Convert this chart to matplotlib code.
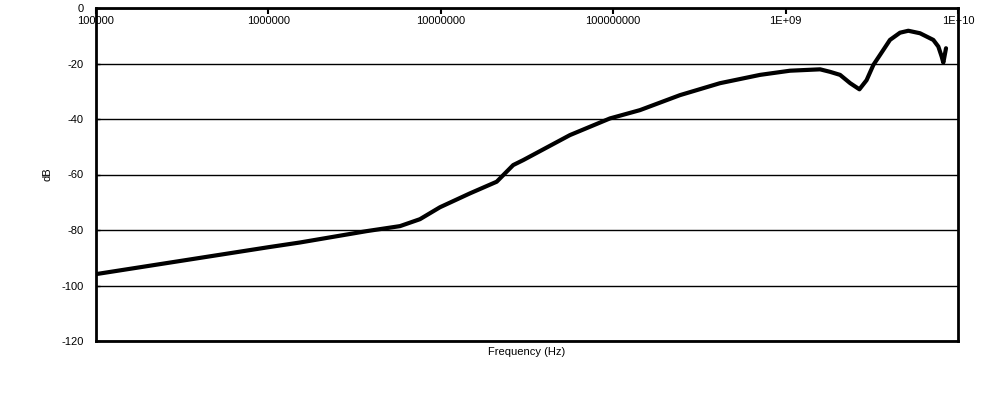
import matplotlib
matplotlib.use("Agg")
import matplotlib.pyplot as plt
from matplotlib.ticker import FixedLocator, FixedFormatter, NullLocator

plt.rcParams['font.family'] = ['Liberation Sans', 'DejaVu Sans']
plt.rcParams['axes.unicode_minus'] = False

freq_hz = [1.0e5, 1.0e6, 1.525e6, 3.72e6, 5.8e6, 7.57e6, 9.89e6, 1.476e7, 2.11e7,
           2.63e7, 3.01e7, 5.61e7, 9.57e7, 1.43e8, 2.44e8, 4.16e8, 7.11e8, 1.06e9,
           1.585e9, 1.81e9, 2.07e9, 2.37e9, 2.68e9, 2.95e9, 3.23e9, 3.53e9, 4.03e9,
           4.61e9, 5.15e9, 6.02e9, 7.19e9, 7.69e9, 8.04e9, 8.22e9, 8.52e9]
gain_db = [-95.9, -86.2, -84.5, -80.4, -78.6, -76.1, -71.8, -66.8, -62.6,
           -56.6, -54.8, -45.8, -39.8, -36.8, -31.4, -27.1, -24.1, -22.6,
           -22.1, -23.0, -24.1, -27.1, -29.3, -26.0, -20.5, -16.9, -11.5,
           -8.9, -8.2, -9.1, -11.5, -13.9, -17.5, -19.7, -14.5]

x_ticks = [1e5, 1e6, 1e7, 1e8, 1e9, 1e10]
x_tick_labels = ["100000", "1000000", "10000000", "100000000", "1E+09", "1E+10"]
y_ticks = [0, -20, -40, -60, -80, -100, -120]

fig = plt.figure(figsize=(9.97, 4.03), dpi=100)
ax = fig.add_axes([96/997, 1 - 341/403, (958-96)/997, (341-8)/403])

ax.plot(freq_hz, gain_db, color='black', lw=3.0, solid_joinstyle='round', solid_capstyle='round')

ax.set_xscale('log')
ax.set_xlim(1e5, 1e10)
ax.set_ylim(-120, 0)

ax.xaxis.tick_top()
ax.xaxis.set_major_locator(FixedLocator(x_ticks))
ax.xaxis.set_major_formatter(FixedFormatter(x_tick_labels))
ax.xaxis.set_minor_locator(NullLocator())
ax.tick_params(axis='x', which='major', direction='in', length=4, width=1.5,
               pad=-13, labelsize=8)
ax.set_yticks(y_ticks)
ax.tick_params(axis='y', direction='in', length=3, width=1, pad=9, labelsize=8)
ax.yaxis.grid(True, color='black', lw=1)
ax.set_axisbelow(True)

for s in ax.spines.values():
    s.set_linewidth(2)
    s.set_color('black')

ax.set_ylabel('dB', fontsize=8)
ax.yaxis.set_label_coords(-0.050, 0.5)
fig.text(527/997, 1 - 352/403, 'Frequency (Hz)', ha='center', va='center', fontsize=8)

fig.savefig('out.png', dpi=100)
